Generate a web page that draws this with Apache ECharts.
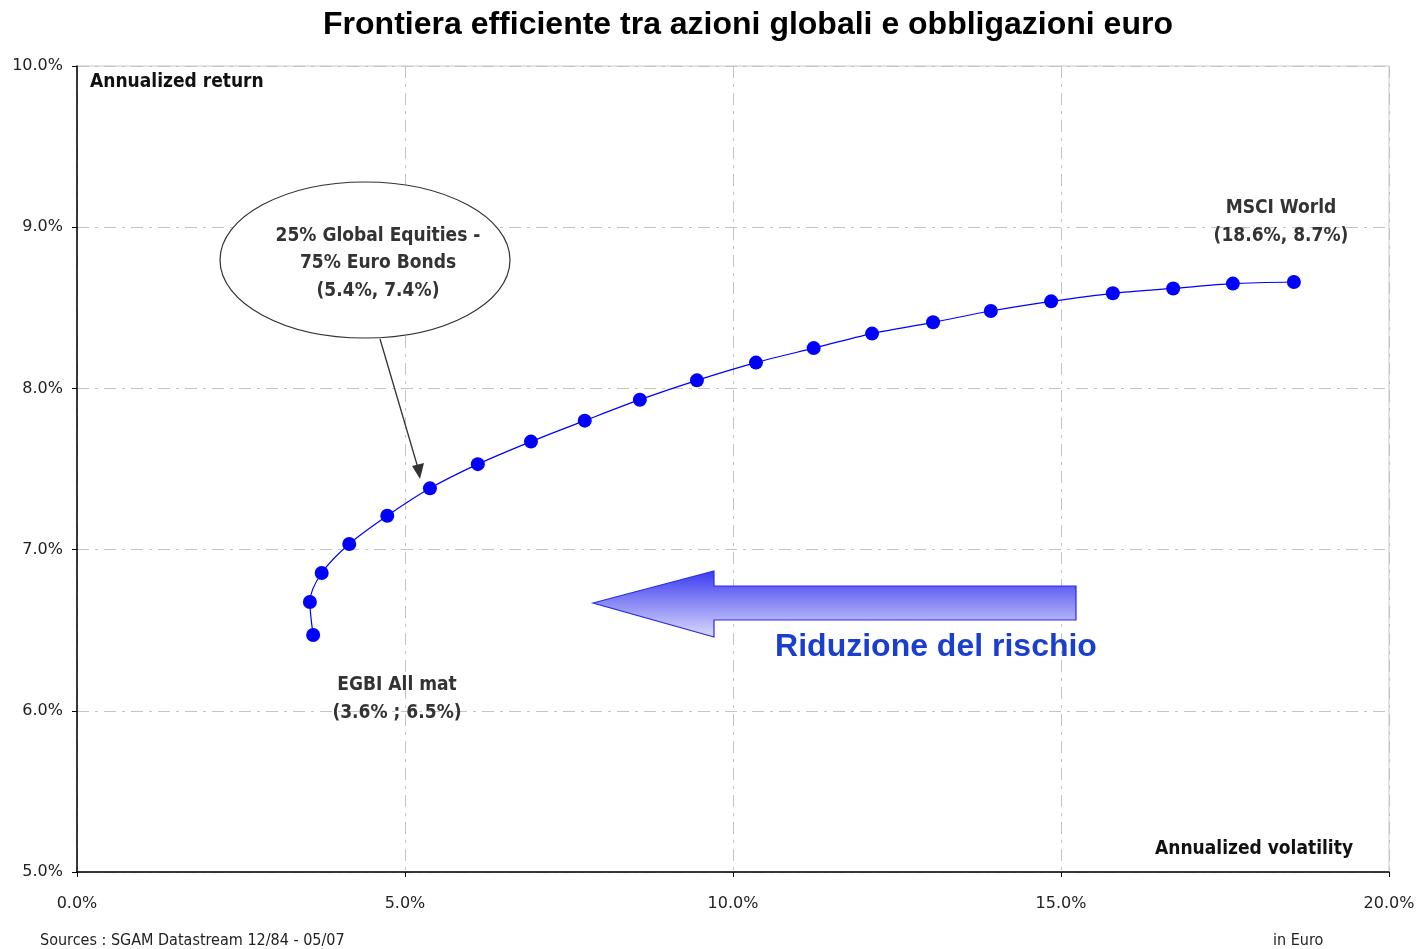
<!DOCTYPE html>
<html><head><meta charset="utf-8">
<script src="https://cdn.jsdelivr.net/npm/echarts@6/dist/echarts.min.js"></script>
<style>html,body{margin:0;padding:0;background:#fff}#c{width:1418px;height:949px}</style>
</head><body><div id="c"></div>
<script>
const volatility = [3.60, 3.55, 3.73, 4.15, 4.73, 5.38, 6.11, 6.92, 7.74, 8.58, 9.45, 10.35, 11.23, 12.12, 13.05, 13.93, 14.85, 15.79, 16.71, 17.62, 18.55];
const returns = [6.47, 6.675, 6.855, 7.035, 7.21, 7.38, 7.53, 7.67, 7.80, 7.93, 8.05, 8.16, 8.25, 8.34, 8.41, 8.48, 8.54, 8.59, 8.62, 8.65, 8.66];
const xTicks = [0, 5, 10, 15, 20];
const yTicks = [5, 6, 7, 8, 9, 10];
const title = 'Frontiera efficiente tra azioni globali e obbligazioni euro';

const narrow = '"Liberation Sans Narrow","DejaVu Sans Condensed","Liberation Sans",sans-serif';
const chart = echarts.init(document.getElementById('c'));
const grid = {left: 77, top: 66, right: 29, bottom: 77};
const gridLine = {show: true, lineStyle: {color: '#c4c4c4', width: 1, type: [12, 6, 3, 6]}};

chart.setOption({
  animation: false,
  grid: Object.assign({show: true, borderColor: '#c8c8c8', borderWidth: 1}, grid),
  xAxis: {type: 'value', min: xTicks[0], max: xTicks[xTicks.length-1], interval: 5,
    axisLine: {show: true, lineStyle: {color: '#000', width: 1.5}},
    axisTick: {show: true, length: 5, lineStyle: {color: '#000'}},
    axisLabel: {formatter: v => v.toFixed(1) + '%', margin: 24, fontSize: 16, color: '#222', fontFamily: 'DejaVu Sans'},
    splitLine: gridLine},
  yAxis: {type: 'value', min: yTicks[0], max: yTicks[yTicks.length-1], interval: 1,
    axisLine: {show: true, lineStyle: {color: '#000', width: 1.5}},
    axisTick: {show: true, length: 5, lineStyle: {color: '#000'}},
    axisLabel: {formatter: v => v.toFixed(1) + '%', margin: 14, fontSize: 16, color: '#222', fontFamily: 'DejaVu Sans'},
    splitLine: gridLine},
  series: [{
    type: 'line', smooth: 0.3,
    data: volatility.map((v, i) => [v, returns[i]]),
    symbol: 'circle', symbolSize: 14,
    lineStyle: {color: '#0000ff', width: 1.2},
    itemStyle: {color: '#0000ff'}
  }],
  graphic: [
    {type: 'text', z: 11, style: {x: 748, y: 25, text: title, font: 'bold 32px "Liberation Sans", Arial, sans-serif', fill: '#000', align: 'center', verticalAlign: 'middle'}},
    {type: 'text', left: 90, top: 73, style: {text: 'Annualized return', font: 'bold 19px ' + narrow, fill: '#111'}},
    {type: 'text', left: 1155, top: 840, style: {text: 'Annualized volatility', font: 'bold 19px ' + narrow, fill: '#111'}},
    {type: 'text', left: 40, top: 933, style: {text: 'Sources : SGAM Datastream 12/84 - 05/07', font: '16px ' + narrow, fill: '#222'}},
    {type: 'text', left: 1273, top: 933, style: {text: 'in Euro', font: '16px ' + narrow, fill: '#222'}},
    {type: 'ellipse', shape: {cx: 365, cy: 260, rx: 145, ry: 78}, style: {fill: '#fff', stroke: '#333', lineWidth: 1.2}, z: 10},
    {type: 'text', z: 11, style: {x: 378, y: 236, text: '25% Global Equities -', font: 'bold 19px ' + narrow, fill: '#333', align: 'center', verticalAlign: 'middle'}},
    {type: 'text', z: 11, style: {x: 378, y: 263, text: '75% Euro Bonds', font: 'bold 19px ' + narrow, fill: '#333', align: 'center', verticalAlign: 'middle'}},
    {type: 'text', z: 11, style: {x: 378, y: 291, text: '(5.4%, 7.4%)', font: 'bold 19px ' + narrow, fill: '#333', align: 'center', verticalAlign: 'middle'}},
    {type: 'line', z: 10, shape: {x1: 380, y1: 339, x2: 418, y2: 468}, style: {stroke: '#333', lineWidth: 1.3}},
    {type: 'polygon', z: 10, shape: {points: [[420, 479], [412, 466], [424, 463]]}, style: {fill: '#333'}},
    {type: 'text', z: 11, style: {x: 1281, y: 208, text: 'MSCI World', font: 'bold 19px ' + narrow, fill: '#333', align: 'center', verticalAlign: 'middle'}},
    {type: 'text', z: 11, style: {x: 1281, y: 236, text: '(18.6%, 8.7%)', font: 'bold 19px ' + narrow, fill: '#333', align: 'center', verticalAlign: 'middle'}},
    {type: 'text', z: 11, style: {x: 397, y: 685, text: 'EGBI All mat', font: 'bold 19px ' + narrow, fill: '#333', align: 'center', verticalAlign: 'middle'}},
    {type: 'text', z: 11, style: {x: 397, y: 713, text: '(3.6% ; 6.5%)', font: 'bold 19px ' + narrow, fill: '#333', align: 'center', verticalAlign: 'middle'}},
    {type: 'polygon', z: 9, shape: {points: [[593, 603], [714, 571], [714, 586], [1076, 586], [1076, 620], [714, 620], [714, 637]]},
      style: {stroke: '#2a2ae8', lineWidth: 1.2,
        fill: new echarts.graphic.LinearGradient(0, 0, 0, 1, [{offset: 0, color: '#3a3af2'}, {offset: 0.5, color: '#8c8cf6'}, {offset: 1, color: '#dcdcfc'}])}},
    {type: 'text', z: 11, style: {x: 936, y: 647, text: 'Riduzione del rischio', font: 'bold 32px "Liberation Sans", Arial, sans-serif', fill: '#1a3fd0', align: 'center', verticalAlign: 'middle'}}
  ]
});
</script></body></html>
